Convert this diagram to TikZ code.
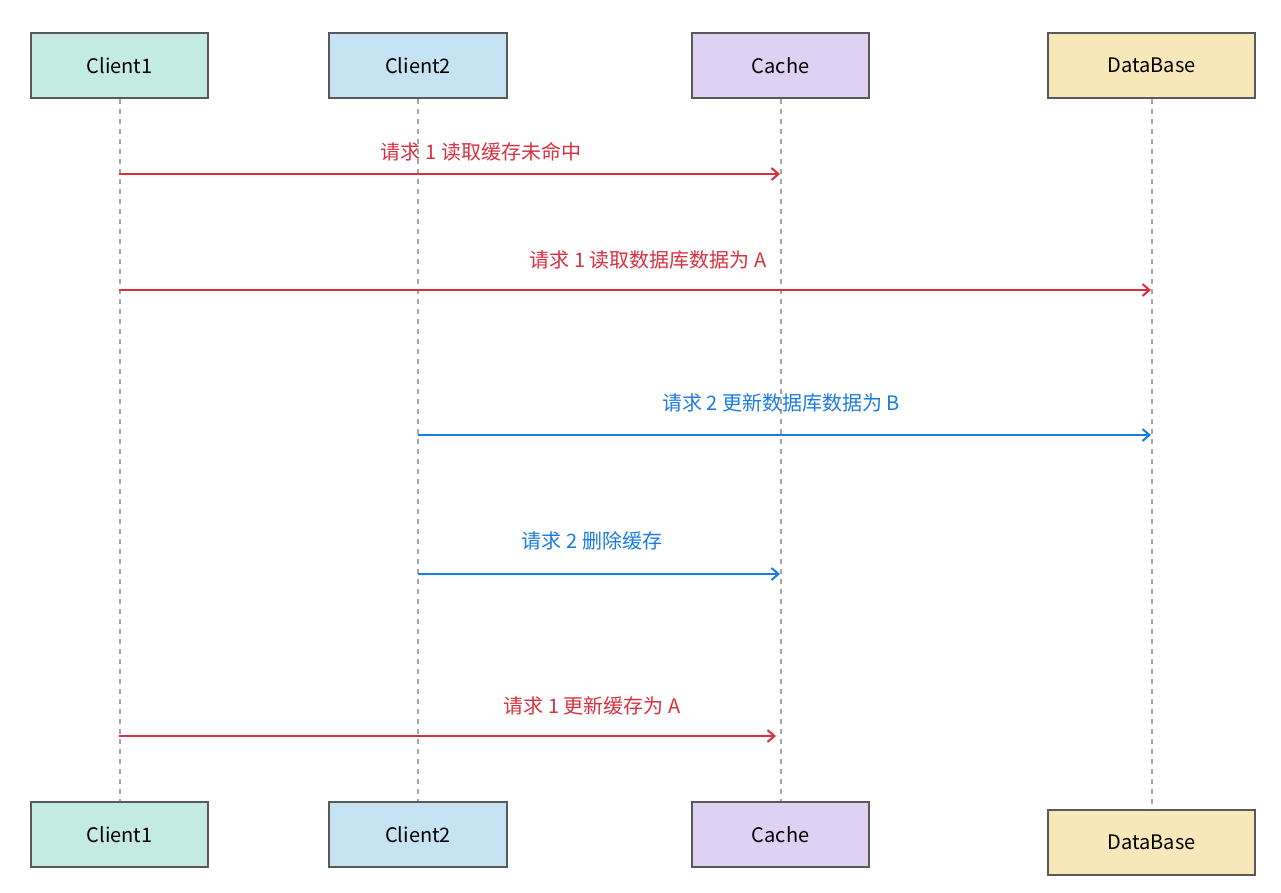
\documentclass[tikz,border=0pt]{standalone}
\usepackage{fontspec}
\setmainfont{Noto Sans CJK SC}
\usetikzlibrary{positioning}
\usetikzlibrary{arrows.meta}
\definecolor{cOne}{HTML}{C3EBE1}
\definecolor{cTwo}{HTML}{C6E3F4}
\definecolor{cCache}{HTML}{DED1F4}
\definecolor{cDb}{HTML}{F8E8B9}
\definecolor{reqA}{HTML}{D9303F}
\definecolor{reqB}{HTML}{1B7BE0}
\begin{document}
\begin{tikzpicture}[x=1pt,y=-1pt]
\tikzset{actor/.style={rectangle,minimum height=65pt, draw=black!65, line width=2pt, font=\fontsize{20}{24}\selectfont}}
\tikzset{life/.style={draw=black!35, line width=2pt, dash pattern=on 5pt off 5pt}}
\tikzset{msg/.style={line width=2pt, -{Straight Barb[length=7pt,width=12pt]}}}
\tikzset{lbl/.style={font=\fontsize{20}{24}\selectfont}}
\useasboundingbox (0,0) rectangle (1281,892);
% top row
\node[actor,fill=cOne,minimum width=177pt] (c1) at (119.5,65.5) {Client1};
\node[actor,fill=cTwo,minimum width=178pt] (c2) at (418,65.5) {Client2};
\node[actor,fill=cCache,minimum width=177pt] (ca) at (780.5,65.5) {Cache};
\node[actor,fill=cDb,minimum width=207pt] (db) at (1151.5,65.5) {DataBase};
% bottom row
\node[actor,fill=cOne,minimum width=177pt] (c1b) at (119.5,834.5) {Client1};
\node[actor,fill=cTwo,minimum width=178pt] (c2b) at (418,834.5) {Client2};
\node[actor,fill=cCache,minimum width=177pt] (cab) at (780.5,834.5) {Cache};
\node[actor,fill=cDb,minimum width=207pt] (dbb) at (1151.5,842.5) {DataBase};
% lifelines
\draw[life] (c1) -- (c1b);
\draw[life] (c2) -- (c2b);
\draw[life] (ca) -- (cab);
\draw[life] (db) -- (dbb);
% messages
\coordinate (m1s) at (119,174); \coordinate (m1e) at (780,174);
\coordinate (m2s) at (119,290); \coordinate (m2e) at (1151,290);
\coordinate (m3s) at (418,435); \coordinate (m3e) at (1151,435);
\coordinate (m4s) at (418,574); \coordinate (m4e) at (780,574);
\coordinate (m5s) at (119,736); \coordinate (m5e) at (776,736);
\draw[msg,reqA] (m1s) -- (m1e);
\draw[msg,reqA] (m2s) -- (m2e);
\draw[msg,reqB] (m3s) -- (m3e);
\draw[msg,reqB] (m4s) -- (m4e);
\draw[msg,reqA] (m5s) -- (m5e);
\node[lbl,text=reqA] (t1) at (481,152) {请求 1 读取缓存未命中};
\node[lbl,text=reqA] (t2) at (648,260) {请求 1 读取数据库数据为 A};
\node[lbl,text=reqB] (t3) at (781,403) {请求 2 更新数据库数据为 B};
\node[lbl,text=reqB] (t4) at (592,541) {请求 2 删除缓存};
\node[lbl,text=reqA] (t5) at (592,706) {请求 1 更新缓存为 A};
\end{tikzpicture}
\end{document}
